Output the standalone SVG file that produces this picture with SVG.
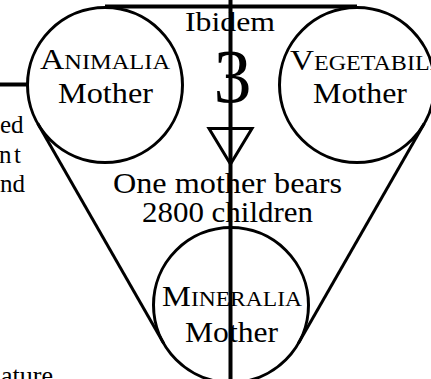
<svg xmlns="http://www.w3.org/2000/svg" width="431" height="379" viewBox="0 0 431 379">
<style>
.c{fill:none;stroke:#000;stroke-width:3}
.l{fill:none;stroke:#000;stroke-width:3}
.h{fill:none;stroke:#000;stroke-width:4}
.t{font-family:"Liberation Serif","Times New Roman",serif;fill:#000}
.m{font-size:29px;text-anchor:middle}
.s{font-size:25px}
</style>
<rect width="431" height="379" fill="#fff"/>
<g id="side-text">
<text class="t s" x="0" y="133">ed</text>
<text class="t s" x="-1 14" y="163">nt</text>
<text class="t s" x="0" y="192">nd</text>
<text class="t s" x="1" y="384" textLength="52" lengthAdjust="spacingAndGlyphs">ature</text>
</g>
<g id="connectors">
<line class="h" x1="0" y1="84.5" x2="28" y2="84.5"/>
<line class="h" x1="105" y1="6.5" x2="357" y2="6.5"/>
<line class="l" x1="37.75" y1="123.5" x2="163.75" y2="343.5"/>
<line class="l" x1="424.25" y1="123.5" x2="298.25" y2="343.5"/>
</g>
<g id="animalia">
<circle class="c" cx="105" cy="85" r="77.5"/>
<text class="t m" x="105" y="69" textLength="130" lengthAdjust="spacingAndGlyphs"><tspan font-size="29">A</tspan><tspan font-size="21">NIMALIA</tspan></text>
<text class="t m" x="105.5" y="103" textLength="95" lengthAdjust="spacingAndGlyphs">Mother</text>
</g>
<g id="vegetabilia">
<circle class="c" cx="357" cy="85" r="77.5"/>
<text class="t" x="290" y="70" textLength="165" lengthAdjust="spacingAndGlyphs"><tspan font-size="29">V</tspan><tspan font-size="21">EGETABILIA</tspan></text>
<text class="t m" x="360" y="103" textLength="94" lengthAdjust="spacingAndGlyphs">Mother</text>
</g>
<g id="mineralia">
<circle class="c" cx="231" cy="305" r="77.5"/>
<text class="t m" x="232" y="306" textLength="140" lengthAdjust="spacingAndGlyphs"><tspan font-size="29">M</tspan><tspan font-size="21">INERALIA</tspan></text>
<text class="t m" x="231.5" y="342" textLength="93" lengthAdjust="spacingAndGlyphs">Mother</text>
</g>
<g id="ibidem">
<text class="t m" x="230" y="31" font-size="27" textLength="90" lengthAdjust="spacingAndGlyphs" style="font-size:27px">Ibidem</text>
<text class="t m" x="232.5" y="102" style="font-size:76px">3</text>
<polygon class="l" points="209,128.5 252,128.5 230.5,164"/>
</g>
<g id="caption">
<text class="t m" x="227.5" y="193" style="font-size:30px" textLength="229" lengthAdjust="spacingAndGlyphs">One mother bears</text>
<text class="t m" x="227.5" y="222" style="font-size:30px" textLength="171" lengthAdjust="spacingAndGlyphs">2800 children</text>
</g>
<g id="axis">
<line class="h" x1="230.5" y1="0" x2="230.5" y2="379"/>
</g>
</svg>
